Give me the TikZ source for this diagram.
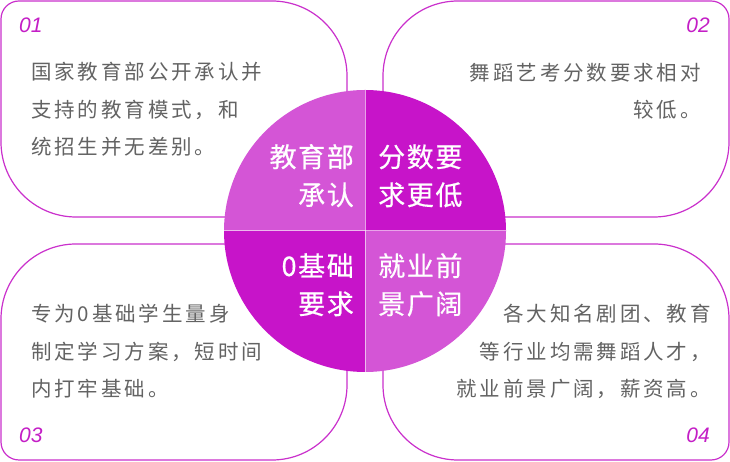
\documentclass[tikz,border=0pt]{standalone}
\usepackage{fontspec}
\usepackage{xcolor}
\usepackage{tikz}
\usetikzlibrary{positioning, calc}

\newfontfamily\bodyfont{Noto Sans CJK SC}[LetterSpace=14]
\newfontfamily\piefont{Noto Sans CJK SC}[LetterSpace=6, FakeBold=0.6]
\newfontfamily\numfont{Liberation Sans}

\definecolor{cardline}{HTML}{CA30CC}
\definecolor{pielight}{HTML}{D455D6}
\definecolor{piedark}{HTML}{C714C9}
\definecolor{numpurple}{HTML}{C41EC6}
\definecolor{bodygrey}{HTML}{636363}

\begin{document}
\begin{tikzpicture}[
    x=1pt, y=1pt,
    card/.style={draw=cardline, line width=1.2pt, fill=white},
    bodytext/.style={font=\bodyfont\fontsize{20.5}{37.5}\selectfont, text=bodygrey, inner sep=0pt},
    pietext/.style={font=\piefont\fontsize{27}{38}\selectfont, text=white, inner sep=0pt},
    numtext/.style={font=\numfont\itshape\fontsize{21}{21}\selectfont, text=numpurple, inner sep=0pt},
]
    \useasboundingbox (0,0) rectangle (730,462);

    % Cards
    \draw[card] (1,443) arc(180:90:18) -- (272,461) arc(90:0:75) -- (347,245)
        -- (76,245) arc(270:180:75) -- cycle;
    \draw[card] (383,245) -- (383,386) arc(180:90:75) -- (711,461) arc(90:0:18)
        -- (729,320) arc(0:-90:75) -- cycle;
    \draw[card] (347,218) -- (76,218) arc(90:180:75) -- (1,20) arc(180:270:18)
        -- (272,2) arc(270:360:75) -- cycle;
    \draw[card] (383,218) -- (654,218) arc(90:0:75) -- (729,20) arc(0:-90:18)
        -- (458,2) arc(270:180:75) -- cycle;

    % Centre disc
    \coordinate (ctr) at (365,231);
    \fill[pielight] (ctr) -- ++(180:141) arc(180:90:141) -- cycle;
    \fill[piedark] (ctr) -- ++(90:141) arc(90:0:141) -- cycle;
    \fill[piedark] (ctr) -- ++(180:141) arc(180:270:141) -- cycle;
    \fill[pielight] (ctr) -- ++(270:141) arc(270:360:141) -- cycle;
    \draw[white, opacity=0.6, line width=1pt] ($(ctr)+(-141,0)$) -- ($(ctr)+(141,0)$);
    \draw[white, opacity=0.6, line width=1pt] ($(ctr)+(0,-141)$) -- ($(ctr)+(0,141)$);

    % Disc labels
    \node[pietext, anchor=base east, align=right] (pieA) at (354,257) {教育部\\承认};
    \node[pietext, anchor=base west, align=left] (pieB) at (378,257) {分数要\\求更低};
    \node[pietext, anchor=base east, align=right] (pieC) at (354,148) {0基础\\要求};
    \node[pietext, anchor=base west, align=left] (pieD) at (378,148) {就业前\\景广阔};

    % Card texts
    \node[bodytext, anchor=base west, align=left] (txtA) at (31,307)
        {国家教育部公开承认并\\支持的教育模式，和\\统招生并无差别。};
    \node[bodytext, anchor=base east, align=right] (txtB) at (701,344)
        {舞蹈艺考分数要求相对\\较低。};
    \node[bodytext, anchor=base west, align=left] (txtC) at (31,65)
        {专为0基础学生量身\\制定学习方案，短时间\\内打牢基础。};
    \node[bodytext, anchor=base east, align=right] (txtD) at (711,65)
        {各大知名剧团、教育\\等行业均需舞蹈人才，\\就业前景广阔，薪资高。};

    % Numbers
    \node[numtext, anchor=base west] (numA) at (19,429) {01};
    \node[numtext, anchor=base east] (numB) at (710,429) {02};
    \node[numtext, anchor=base west] (numC) at (19,19) {03};
    \node[numtext, anchor=base east] (numD) at (710,19) {04};
\end{tikzpicture}
\end{document}
